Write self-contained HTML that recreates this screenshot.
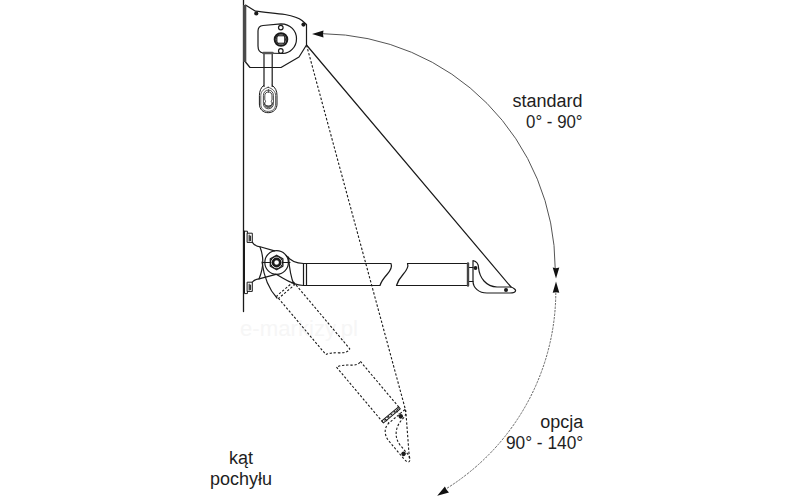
<!DOCTYPE html>
<html><head><meta charset="utf-8">
<style>
html,body{margin:0;padding:0;background:#fff;width:800px;height:500px;overflow:hidden}
svg{position:absolute;left:0;top:0}
.t{font-family:"Liberation Sans",sans-serif;fill:#1e1e1e}
</style></head>
<body>
<svg width="800" height="500" viewBox="0 0 800 500">

<text x="299" y="336" font-family="&quot;Liberation Sans&quot;, sans-serif" font-size="22" fill="#f6f6f6" text-anchor="middle" textLength="118" lengthAdjust="spacingAndGlyphs">e-markizy.pl</text>

<g fill="none" stroke="#1a1a1a" stroke-width="1.2" stroke-linejoin="round" stroke-linecap="round">
  <!-- wall -->
  <line x1="243.5" y1="0" x2="243.5" y2="311.5" stroke-width="1.3"/>

  <!-- top cassette -->
  <path d="M245.5,5 L255.5,11.2 C265,12.5 275,13.2 285,14.5 C293,16 299,18 302,20.5 L306.5,24.5 L306.5,45 L299,57 L281,67.5 L250,67.5 L245.5,62 Z"/>
  <rect x="243" y="5" width="3.2" height="57" fill="#4a4a4a" stroke="none"/>
  <circle cx="256.3" cy="13.5" r="2.1" fill="#1a1a1a" stroke="none"/>
  <circle cx="303.5" cy="24.6" r="2.1" fill="#1a1a1a" stroke="none"/>
  <!-- inner plate -->
  <path d="M263,25.5 L281,23.8 C290.5,24 296.5,31 296.5,38.7 C296.5,47 290,53.5 283,53.5 L263,53 C260,52.5 258,50 258,46 L258,31 C258,27.5 260,25.8 263,25.5 Z"/>
  <circle cx="281" cy="39.5" r="6.3" stroke-width="2"/>
  <circle cx="281" cy="39.5" r="4.8" stroke-width="0.8"/>
  <rect x="277.3" y="35.8" width="7.4" height="7.4" stroke-width="1"/>
  <circle cx="280.8" cy="27.6" r="2.3"/>
  <circle cx="280.8" cy="51" r="2.3"/>
  <!-- handle -->
  <path d="M264,53.5 L264,86.5 M272.2,53.5 L272.2,86.5"/>
  <path d="M263.5,53 L272.5,53" stroke-width="2.5" stroke="#555"/>
  <path stroke-width="1" d="M263.6,85.4 C261,87.5 259.4,91 259.4,95.5 L259.4,104 C259.4,109.2 263,112.7 268.2,112.7 C273.4,112.7 277,109.2 277,104 L277,95.5 C277,91 275.4,87.5 272.2,85.4"/>
  <path d="M268.2,87.3 C272.5,88.5 275.6,91.5 275.6,95.5 L275.6,104 C275.6,108.6 272.6,111.4 268.2,111.4 C263.8,111.4 260.8,108.6 260.8,104 L260.8,95.5 C260.8,91.5 263.9,88.5 268.2,87.3 Z" stroke-width="0.7"/>
  <path d="M268.4,90 C271.4,90 273.4,92.3 273.4,95.5 L273.4,103.5 C273.4,106.8 271.4,108.8 268.4,108.8 C265.4,108.8 263.4,106.8 263.4,103.5 L263.4,95.5 C263.4,92.3 265.4,90 268.4,90 Z" stroke-width="0.8"/>
  <path d="M263.6,102.5 C264,106.5 266,108.2 268.4,108.2 C270.8,108.2 272.8,106.5 273.2,102.5 L272,102.5 C272,105 270.5,106 268.4,106 C266.3,106 264.8,105 264.8,102.5 Z" fill="#666" stroke="none"/>
  <path d="M268.4,91.9 C270.8,91.9 272,93.5 272,95.8 L272,100 C271,100.8 271,102 272,102.8 L272,103.5 C272,105.3 270.6,105.9 268.4,105.9 C266.2,105.9 264.8,105.3 264.8,103.5 L264.8,102.8 C265.8,102 265.8,100.8 264.8,100 L264.8,95.8 C264.8,93.5 266,91.9 268.4,91.9 Z" stroke-width="0.8"/>

  <!-- lines from corner -->
  <line x1="306.5" y1="45" x2="511" y2="287"/>
  <polyline points="306.5,45 405.8,411 409.5,460" stroke-dasharray="2.4 1.8" stroke-linecap="butt" stroke-width="1.1"/>

  <!-- arm bracket -->
  <path d="M244.5,231.2 L247.4,231.2 L247.4,233 M244.5,231.2 L244.5,293.6 L247.4,293.6 L247.4,291.4" stroke-width="1"/>
  <rect x="247.5" y="233.2" width="4.8" height="9.2" stroke-width="1"/><path d="M249.2,235 L249.2,241 M250.5,236 L250.5,240.5" stroke-width="1.2" stroke="#333"/>
  <rect x="247.5" y="282.2" width="4.8" height="9.2" stroke-width="1"/><path d="M249.2,284 L249.2,290 M250.5,285 L250.5,289.5" stroke-width="1.2" stroke="#333"/>
  <path d="M252.4,242.4 C254,245 256,246.5 261,247 L274.5,250.8"/>
  <path d="M252.4,282 C254,280 256,279 260,278.6 L276,274.3"/>
  <circle cx="276.6" cy="262.5" r="11.8"/>
  <line x1="263" y1="262.5" x2="290" y2="262.5" stroke-width="1"/>
  <path d="M276.6,255.2 L282.9,258.9 L282.9,266.1 L276.6,269.8 L270.3,266.1 L270.3,258.9 Z" stroke-width="1.3" stroke="#222"/>
  <circle cx="276.6" cy="262.5" r="6" stroke-width="1"/>
  <circle cx="276.6" cy="262.5" r="5.2" fill="#fff" stroke="none"/><circle cx="276.6" cy="262.5" r="3.6" stroke-width="2.6"/>
  <path d="M286.2,255.7 C289,259.2 294,263.3 303.5,263.5"/>
  <path d="M276,274.3 C284,278 290,284.5 303.5,285.5"/>
  <path d="M260,247 Q266,262 259,279"/>
  <path d="M262,262 Q265,285 277,298"/>
  <path d="M288.5,257 Q290,276 294,284.5"/>

  <!-- horizontal arm -->
  <!-- collar -->
  <line x1="303.5" y1="263.5" x2="303.5" y2="285.5"/>
  <line x1="306.5" y1="263.5" x2="306.5" y2="285.5"/>
  <!-- left piece -->
  <path d="M303.5,263.5 L391,263.5 C392.5,267 391,270 387,274.5 C383,279 381,282 380,285.5 L303.5,285.5"/>
  <!-- right piece -->
  <path d="M407.5,263.5 L468,263.5 L468,285.5 L396.5,285.5 C397.5,282 399,279 403,274.5 C407,270 409,267 407.5,263.5 Z"/>
  <!-- connector -->
  <path d="M468,267.5 L473,267.5 M468,281.5 L473,281.5"/>
  <!-- end piece -->
  <path d="M473,260.5 C476.5,261.5 478.5,264 478.5,267.5 C479.5,278 486,286.5 497,287 L511,287 C514,288 516,290 515.5,291 C515,292.5 513,293 510,293 L487,293 C479,293 473,288 473,281 Z"/>
  <line x1="468" y1="263.5" x2="468" y2="285.5" stroke-width="2.4" stroke="#444"/>
  <circle cx="475.5" cy="268" r="1.9" fill="#1a1a1a" stroke="none"/>
  <circle cx="506" cy="290" r="2" fill="#1a1a1a" stroke="none"/>

  <!-- rotated dashed arm -->
  <g transform="rotate(49.9 278.7 261.85)" stroke-dasharray="2.3 1.8" stroke-linecap="butt" stroke-width="1.1">
    <!-- collar -->
  <line x1="303.5" y1="263.5" x2="303.5" y2="285.5"/>
  <line x1="306.5" y1="263.5" x2="306.5" y2="285.5"/>
  <!-- left piece -->
  <path d="M303.5,263.5 L391,263.5 C392.5,267 391,270 387,274.5 C383,279 381,282 380,285.5 L303.5,285.5"/>
  <!-- right piece -->
  <path d="M407.5,263.5 L468,263.5 L468,285.5 L396.5,285.5 C397.5,282 399,279 403,274.5 C407,270 409,267 407.5,263.5 Z"/>
  <!-- connector -->
  <path d="M468,267.5 L473,267.5 M468,281.5 L473,281.5"/>
  <!-- end piece -->
  <path d="M473,260.5 C476.5,261.5 478.5,264 478.5,267.5 C479.5,278 486,286.5 497,287 L511,287 C514,288 516,290 515.5,291 C515,292.5 513,293 510,293 L487,293 C479,293 473,288 473,281 Z"/>
  </g>
  <g transform="rotate(49.9 278.7 261.85)">
    <rect x="466.8" y="263.5" width="2.6" height="22" stroke-width="1"/>
    <circle cx="475.5" cy="268" r="2.3" fill="#1a1a1a" stroke="none"/>
    <circle cx="506" cy="290" r="2.3" fill="#1a1a1a" stroke="none"/>
  </g>

  <!-- arcs -->
  <path d="M323,33.7 A235,235 0 0 1 555.2,268" stroke="#555" stroke-width="1"/>
  <path d="M555.8,293 A232.8,232.8 0 0 1 447.4,488" stroke="#666" stroke-width="1" stroke-dasharray="1.6 1.9"/>
</g>
<!-- arrowheads -->
<g fill="#111" stroke="none">
  <path d="M312,34 L323.5,30.6 L323,34 L323.5,37.4 Z"/>
  <path d="M556,278.6 L552.7,267.6 L556,268.2 L559.3,267.6 Z"/>
  <path d="M556,281.4 L552.7,292.8 L556,292.2 L559.3,292.8 Z"/>
  <path d="M437.2,495.8 L444.9,486.6 L446.6,489.8 L449,492.6 Z"/>
</g>

<text class="t" x="582.6" y="106.9" font-size="18" text-anchor="end">standard</text>
<text class="t" x="582.6" y="128.0" font-size="18" text-anchor="end" textLength="56.5" lengthAdjust="spacingAndGlyphs">0° - 90°</text>
<text class="t" x="583.2" y="427.8" font-size="18" text-anchor="end">opcja</text>
<text class="t" x="583.2" y="449.1" font-size="18" text-anchor="end" textLength="77.3" lengthAdjust="spacingAndGlyphs">90° - 140°</text>
<text class="t" x="241" y="463.9" font-size="18" text-anchor="middle">kąt</text>
<text class="t" x="241" y="484.6" font-size="18" text-anchor="middle">pochyłu</text>
</svg>
</body></html>
